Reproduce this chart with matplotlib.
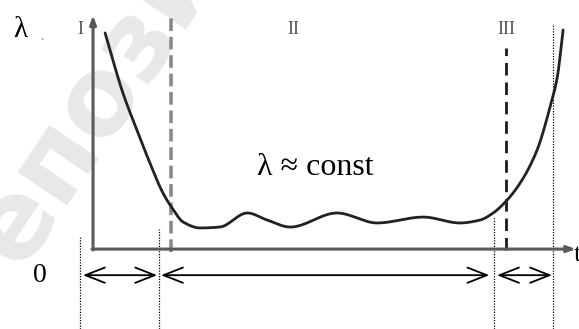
import matplotlib
matplotlib.use("Agg")
from matplotlib import pyplot as plt
import numpy as np

plt.rcParams['font.family'] = ['Liberation Serif', 'DejaVu Serif']

# failure rate curve (t, lambda), axis runs 0..100 on both
curve_t = [2.5, 4.1, 6.2, 9.1, 11.8, 14.5, 16.4, 18.7, 22.2, 26.3, 32.0, 36.1,
           40.9, 50.6, 58.9, 68.5, 76.1, 80.3, 83.0, 85.5, 88.6, 92.1, 94.8,
           96.3, 97.5]
curve_lam = [95.2, 83.3, 68.7, 52.4, 37.9, 24.7, 18.1, 11.9, 9.3, 9.7, 15.9, 12.8,
             9.7, 15.9, 11.5, 14.1, 11.5, 12.8, 15.9, 20.7, 29.1, 43.6, 62.6,
             75.8, 96.5]

# period borders
border_dashed = [16.2, 85.7]
border_dotted = [-2.7, 13.7, 83.2, 95.4]
dotted_top = [5.3, 8.8, 14.1, 98.7]
spans = [(-2.1, 13.3), (14.1, 82.2), (83.8, 95.2)]
periods = ['I', 'II', 'III']
period_t = [-2.7, 41.5, 85.7]


def pchip(xs, ys, n=800):
    # monotone cubic Hermite (Fritsch-Carlson), no overshoot between points
    x, y = np.asarray(xs, float), np.asarray(ys, float)
    h = np.diff(x)
    d = np.diff(y) / h
    m = np.zeros_like(y)
    for i in range(1, len(x) - 1):
        if d[i - 1] * d[i] > 0:
            w1 = 2 * h[i] + h[i - 1]
            w2 = h[i] + 2 * h[i - 1]
            m[i] = (w1 + w2) / (w1 / d[i - 1] + w2 / d[i])
    m[0] = d[0]
    m[-1] = d[-1]
    xx = np.linspace(x[0], x[-1], n)
    k = np.clip(np.searchsorted(x, xx) - 1, 0, len(x) - 2)
    s = (xx - x[k]) / h[k]
    h00 = 2 * s ** 3 - 3 * s ** 2 + 1
    h10 = s ** 3 - 2 * s ** 2 + s
    h01 = -2 * s ** 3 + 3 * s ** 2
    h11 = s ** 3 - s ** 2
    yy = h00 * y[k] + h10 * h[k] * m[k] + h01 * y[k + 1] + h11 * h[k] * m[k + 1]
    return xx, yy


fig = plt.figure(figsize=(5.79, 3.29), dpi=100)
ax = fig.add_axes([0, 0, 1, 1])
ax.set_xlim(-19.3, 100.8)
ax.set_ylim(-35.2, 109.7)
ax.axis('off')

# watermark
ax.text(-21, -42, 'Репозиторий', rotation=56, fontsize=78, fontweight='bold',
        family='DejaVu Sans', color='#e8e8e8', ha='left', va='bottom',
        rotation_mode='anchor', zorder=0)

# coordinate axes
ax.annotate('', xy=(0, 103), xytext=(0, -0.4),
            arrowprops=dict(arrowstyle='-|>,head_length=0.5,head_width=0.18',
                            color='#5a5a5a', lw=2.2, shrinkA=0, shrinkB=0))
ax.annotate('', xy=(100.2, 0), xytext=(-0.2, 0),
            arrowprops=dict(arrowstyle='-|>,head_length=0.5,head_width=0.18',
                            color='#5a5a5a', lw=2.2, shrinkA=0, shrinkB=0))

ax.plot([border_dashed[0]] * 2, [-1.3, 101.8], color='#8a8a8a', lw=2.6,
        dashes=(3.5, 1.6))
ax.plot([border_dashed[1]] * 2, [-0.4, 88.5], color='#1a1a1a', lw=2.0,
        dashes=(4.5, 2.5))

for x, top in zip(border_dotted, dotted_top):
    ax.plot([x, x], [-35.2, top], color='black', lw=0.9, dashes=(1, 1.2))

for a, b in spans:
    ax.annotate('', xy=(b, -11.5), xytext=(a, -11.5),
                arrowprops=dict(arrowstyle='<->,head_length=1.4,head_width=0.55',
                                color='black', lw=1.3, shrinkA=0, shrinkB=0))

cx, cy = pchip(curve_t, curve_lam)
ax.plot(cx, cy, color='#222222', lw=2.0, solid_capstyle='round')

for name, x in zip(periods, period_t):
    ax.text(x, 96.5, name, fontsize=13, color='#555555', ha='center', va='center')

ax.text(-15.1, 96.5, 'λ', fontsize=21, ha='center', va='center')
ax.text(-10.6, 93.5, '.', fontsize=10, color='#888888', ha='center', va='center')
ax.text(-11.0, -11.5, '0', fontsize=20, ha='center', va='center')
ax.text(99.7, -2.5, 't', fontsize=19, ha='left', va='center')
ax.text(34.0, 32.6, 'λ ≈ const', fontsize=23, ha='left', va='baseline')

fig.savefig('out.png', dpi=100)
